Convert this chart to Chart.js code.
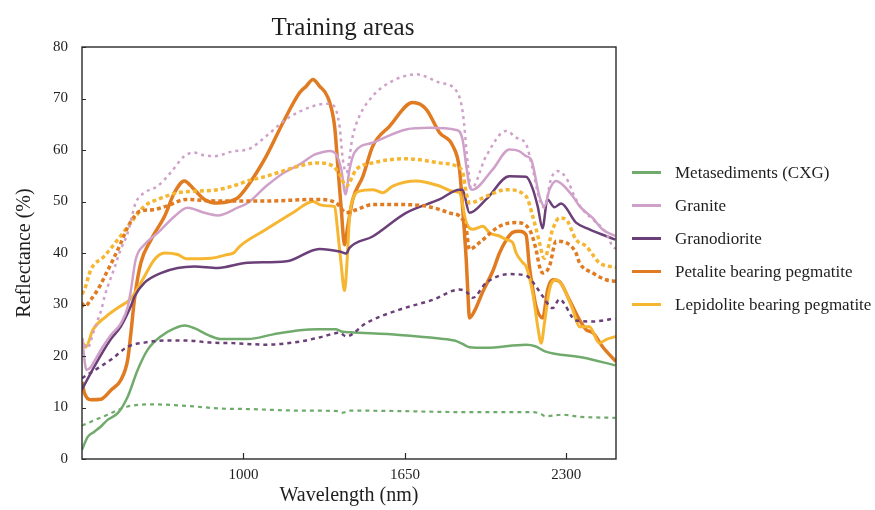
<!DOCTYPE html>
<html>
<head>
<meta charset="utf-8">
<title>Training areas</title>
<script src="https://cdn.jsdelivr.net/npm/chart.js@4.4.1/dist/chart.umd.min.js"></script>
<style>
  html, body { margin: 0; padding: 0; background: #ffffff; }
  #wrap { width: 875px; height: 510px; }
</style>
</head>
<body>
<div id="wrap"><canvas id="spectra" width="875" height="510"></canvas></div>
<script>
// ---- Reflectance spectra (wavelength in nm, reflectance in %) ----

const xTickValues = [1000, 1650, 2300];
const yTickStep = 10;

const metaSolidNm  = [350, 373, 400, 426, 453, 494, 534, 574, 614, 667, 720, 762, 802, 856, 908, 1017, 1120, 1226, 1300, 1370, 1400, 1430, 1628, 1789, 1850, 1880, 1910, 1977, 2138, 2175, 2214, 2365, 2497];
const metaSolidPct = [1.8, 4.3, 5.3, 6.3, 7.6, 8.9, 12.1, 17.3, 21.2, 23.8, 25.3, 25.9, 25.4, 24.1, 23.3, 23.3, 24.2, 25.0, 25.2, 25.2, 24.7, 24.6, 24.1, 23.4, 23.0, 22.4, 21.7, 21.6, 22.2, 21.9, 20.9, 19.7, 18.2];

const metaDotNm  = [350, 453, 534, 641, 775, 908, 1017, 1226, 1380, 1400, 1430, 1628, 1897, 2163, 2200, 2214, 2284, 2353, 2497];
const metaDotPct = [6.5, 8.6, 10.2, 10.6, 10.3, 9.8, 9.7, 9.4, 9.3, 9.0, 9.4, 9.3, 9.1, 9.1, 8.7, 8.3, 8.6, 8.2, 8.0];

const graniteSolidNm  = [350, 368, 385, 400, 430, 465, 506, 534, 546, 566, 601, 655, 722, 775, 843, 896, 977, 1017, 1092, 1160, 1226, 1286, 1320, 1347, 1374, 1394, 1411, 1427, 1447, 1520, 1655, 1749, 1857, 1882, 1897, 1910, 1922, 2003, 2071, 2110, 2138, 2158, 2192, 2212, 2232, 2259, 2284, 2326, 2353, 2406, 2445, 2497];
const graniteSolidPct = [23.5, 17.3, 17.8, 19.0, 21.5, 24.0, 26.3, 29.5, 32.5, 38.7, 41.6, 43.9, 47.1, 48.8, 47.8, 47.3, 48.8, 49.7, 53.0, 55.5, 57.2, 59.1, 59.6, 59.8, 59.1, 56.2, 51.4, 56.2, 59.5, 61.4, 64.0, 64.3, 63.9, 62.1, 57.0, 53.0, 52.3, 56.2, 60.1, 59.8, 58.8, 58.2, 51.0, 49.0, 52.3, 54.0, 53.3, 51.0, 49.1, 46.8, 44.6, 43.3];

const graniteDotNm  = [350, 372, 395, 414, 428, 441, 461, 480, 502, 534, 566, 601, 655, 707, 762, 800, 840, 883, 963, 1017, 1092, 1172, 1280, 1340, 1365, 1387, 1400, 1414, 1440, 1467, 1521, 1588, 1696, 1789, 1857, 1883, 1903, 1917, 1977, 2058, 2098, 2138, 2165, 2192, 2212, 2238, 2265, 2299, 2339, 2366, 2407, 2460, 2486, 2500];
const graniteDotPct = [23.5, 21.5, 24.5, 27.0, 29.0, 31.6, 34.5, 37.0, 40.2, 43.9, 49.7, 51.7, 53.0, 55.6, 58.8, 59.5, 59.0, 58.8, 59.8, 60.1, 62.7, 66.0, 68.5, 69.0, 68.5, 64.6, 58.2, 55.6, 62.7, 66.6, 70.5, 73.1, 74.7, 73.1, 71.5, 67.3, 57.5, 52.5, 58.8, 63.7, 62.4, 61.1, 56.2, 50.4, 48.8, 54.3, 55.9, 54.6, 50.4, 48.4, 46.5, 43.9, 41.3, 40.8];

const granodioriteSolidNm  = [350, 400, 465, 506, 546, 561, 601, 667, 735, 802, 896, 1017, 1174, 1306, 1387, 1414, 1427, 1520, 1655, 1789, 1870, 1882, 1910, 1977, 2071, 2138, 2163, 2185, 2204, 2224, 2252, 2279, 2339, 2393, 2497];
const granodioriteSolidPct = [13.5, 18.0, 23.2, 25.7, 29.6, 31.5, 34.2, 36.1, 37.1, 37.4, 37.1, 38.1, 38.4, 40.8, 40.3, 39.9, 41.0, 43.2, 47.8, 50.4, 52.3, 52.3, 47.8, 50.4, 54.9, 54.8, 52.7, 49.0, 44.8, 50.4, 48.9, 49.6, 45.9, 44.6, 42.6];

const granodioriteDotNm  = [350, 413, 467, 534, 601, 682, 775, 869, 958, 1092, 1226, 1306, 1387, 1414, 1494, 1628, 1762, 1870, 1897, 1923, 1977, 2071, 2138, 2178, 2205, 2245, 2272, 2339, 2407, 2497];
const granodioriteDotPct = [15.7, 17.6, 19.3, 21.8, 22.6, 23.0, 23.0, 22.6, 22.5, 22.2, 22.8, 23.6, 24.5, 23.8, 26.4, 29.0, 30.9, 32.9, 32.5, 31.3, 34.2, 35.9, 35.6, 33.5, 31.6, 29.3, 31.0, 26.9, 26.7, 27.3];

const petaliteSolidNm  = [350, 360, 386, 426, 467, 507, 534, 547, 561, 587, 628, 682, 722, 762, 802, 843, 896, 950, 977, 1017, 1092, 1159, 1226, 1253, 1280, 1306, 1340, 1367, 1380, 1394, 1407, 1420, 1440, 1481, 1521, 1588, 1682, 1736, 1789, 1843, 1870, 1883, 1897, 1903, 1910, 1930, 1964, 2004, 2031, 2058, 2084, 2110, 2138, 2151, 2165, 2178, 2205, 2225, 2245, 2272, 2312, 2353, 2380, 2407, 2446, 2500];
const petaliteSolidPct = [15.0, 12.8, 11.5, 11.6, 13.4, 15.4, 19.3, 24.5, 30.9, 38.1, 42.6, 47.1, 51.7, 54.0, 52.3, 50.4, 49.7, 50.1, 50.7, 53.0, 58.8, 65.3, 71.1, 72.4, 73.7, 72.4, 70.2, 64.6, 56.9, 48.4, 41.6, 45.2, 50.4, 54.9, 60.8, 64.6, 69.2, 67.9, 63.4, 60.8, 56.2, 48.4, 38.7, 32.9, 27.4, 28.7, 32.5, 36.5, 40.0, 42.5, 44.0, 44.2, 43.5, 37.5, 33.0, 29.6, 27.4, 32.9, 34.8, 34.5, 30.9, 27.0, 25.1, 24.5, 21.8, 18.9];

const petaliteDotNm  = [350, 361, 385, 421, 448, 475, 507, 534, 561, 582, 636, 690, 770, 891, 1092, 1293, 1374, 1414, 1454, 1521, 1628, 1736, 1829, 1883, 1897, 1910, 1950, 2031, 2098, 2151, 2178, 2192, 2205, 2232, 2259, 2299, 2339, 2353, 2407, 2460, 2500];
const petaliteDotPct = [30.3, 29.6, 30.9, 33.5, 36.1, 38.7, 42.0, 45.0, 47.1, 48.1, 48.4, 49.1, 50.4, 50.1, 50.1, 50.4, 49.7, 47.8, 48.4, 49.4, 49.4, 49.1, 47.8, 46.5, 44.6, 40.7, 42.0, 45.2, 45.9, 44.6, 40.7, 37.4, 36.1, 37.4, 42.3, 42.0, 40.0, 38.1, 36.1, 34.8, 34.5];

const lepidoliteSolidNm  = [350, 365, 394, 448, 502, 542, 562, 587, 609, 641, 682, 735, 770, 869, 936, 963, 985, 1092, 1199, 1280, 1306, 1360, 1367, 1380, 1393, 1407, 1418, 1427, 1440, 1467, 1521, 1561, 1601, 1696, 1789, 1843, 1870, 1897, 1923, 1964, 1991, 2031, 2058, 2084, 2098, 2125, 2138, 2165, 2185, 2199, 2212, 2232, 2259, 2286, 2326, 2353, 2393, 2433, 2460, 2500];
const lepidoliteSolidPct = [23.0, 21.7, 25.1, 27.7, 29.6, 30.9, 32.2, 34.2, 36.1, 38.7, 40.0, 39.7, 38.9, 39.0, 39.7, 40.1, 41.3, 44.6, 47.8, 50.0, 49.4, 49.1, 49.0, 44.0, 38.0, 32.7, 39.0, 47.0, 50.4, 52.0, 52.3, 51.7, 53.0, 54.0, 53.0, 52.0, 51.7, 45.9, 44.6, 45.2, 43.9, 43.3, 42.6, 42.0, 40.0, 38.1, 37.4, 32.2, 25.7, 22.5, 26.4, 32.9, 34.8, 33.5, 29.0, 25.7, 25.7, 22.5, 23.2, 23.8];

const lepidoliteDotNm  = [350, 360, 386, 440, 494, 547, 601, 655, 735, 802, 896, 977, 1017, 1092, 1226, 1293, 1360, 1387, 1414, 1454, 1521, 1655, 1789, 1857, 1883, 1897, 1910, 1977, 2058, 2138, 2165, 2192, 2205, 2212, 2245, 2272, 2299, 2339, 2380, 2433, 2500];
const lepidoliteDotPct = [32.0, 32.9, 36.8, 39.4, 42.6, 45.9, 49.1, 50.4, 51.7, 52.0, 52.3, 53.3, 54.0, 54.9, 56.9, 57.5, 56.9, 55.3, 53.0, 56.2, 57.5, 58.3, 57.5, 56.9, 55.6, 51.7, 49.7, 51.0, 52.3, 51.0, 47.1, 42.0, 39.4, 39.0, 44.6, 46.8, 46.5, 42.6, 41.3, 38.1, 37.2];

// ---- Styling ----
const COLORS = {
  meta: '#70ab6d',
  granite: '#cfa1c9',
  granodiorite: '#6b3f78',
  petalite: '#e17b22',
  lepidolite: '#f6b632'
};
const SERIF = '"Liberation Serif", "DejaVu Serif", serif';
const INK = '#1e1e1e';

function pairs(xs, ys) {
  return xs.map((x, i) => ({ x: x, y: ys[i] }));
}

function solid(label, color, xs, ys, width) {
  return {
    label: label, data: pairs(xs, ys), inLegend: true,
    borderColor: color, backgroundColor: color, borderWidth: width,
    pointRadius: 0, cubicInterpolationMode: 'monotone', fill: false
  };
}
function dotted(label, color, xs, ys, width, dash) {
  return {
    label: label, data: pairs(xs, ys), inLegend: false,
    borderColor: color, backgroundColor: color, borderWidth: width,
    borderDash: dash, pointRadius: 0, cubicInterpolationMode: 'monotone', fill: false
  };
}

const datasets = [
  dotted('Metasediments (CXG) – library', COLORS.meta, metaDotNm, metaDotPct, 2.2, [4, 4]),
  dotted('Granodiorite – library', COLORS.granodiorite, granodioriteDotNm, granodioriteDotPct, 2.5, [4, 4]),
  dotted('Granite – library', COLORS.granite, graniteDotNm, graniteDotPct, 2.5, [3, 4]),
  dotted('Petalite bearing pegmatite – library', COLORS.petalite, petaliteDotNm, petaliteDotPct, 3.5, [4, 3]),
  dotted('Lepidolite bearing pegmatite – library', COLORS.lepidolite, lepidoliteDotNm, lepidoliteDotPct, 3.5, [4, 3]),
  solid('Metasediments (CXG)', COLORS.meta, metaSolidNm, metaSolidPct, 2.5),
  solid('Granite', COLORS.granite, graniteSolidNm, graniteSolidPct, 2.5),
  solid('Granodiorite', COLORS.granodiorite, granodioriteSolidNm, granodioriteSolidPct, 2.5),
  solid('Lepidolite bearing pegmatite', COLORS.lepidolite, lepidoliteSolidNm, lepidoliteSolidPct, 3),
  solid('Petalite bearing pegmatite', COLORS.petalite, petaliteSolidNm, petaliteSolidPct, 3.5)
];

// Order of the key entries
const legendOrder = ['Metasediments (CXG)', 'Granite', 'Granodiorite', 'Petalite bearing pegmatite', 'Lepidolite bearing pegmatite'];

// Plot frame plus inward tick marks
const frameAndTicks = {
  id: 'frameAndTicks',
  afterDatasetsDraw(chart) {
    const { ctx, chartArea: a, scales } = chart;
    ctx.save();
    ctx.strokeStyle = '#2a2a2a';
    ctx.lineWidth = 1.4;
    ctx.strokeRect(a.left, a.top, a.right - a.left, a.bottom - a.top);
    ctx.lineWidth = 1.2;
    ctx.beginPath();
    scales.y.ticks.forEach(t => {
      const py = Math.round(scales.y.getPixelForValue(t.value)) + 0.5;
      ctx.moveTo(a.left, py); ctx.lineTo(a.left + 4, py);
    });
    scales.x.ticks.forEach(t => {
      const px = Math.round(scales.x.getPixelForValue(t.value)) + 0.5;
      ctx.moveTo(px, a.bottom); ctx.lineTo(px, a.bottom - 6);
    });
    ctx.stroke();
    ctx.restore();
  }
};

// Heading and key on the right
const headingAndKey = {
  id: 'headingAndKey',
  afterDraw(chart) {
    const { ctx } = chart;
    ctx.save();
    ctx.fillStyle = INK;
    ctx.font = '25px ' + SERIF;
    ctx.textAlign = 'center';
    ctx.textBaseline = 'alphabetic';
    ctx.fillText('Training areas', 343, 35);

    ctx.font = '17px ' + SERIF;
    ctx.textAlign = 'left';
    ctx.textBaseline = 'middle';
    const byLabel = {};
    chart.data.datasets.forEach(d => { if (d.inLegend) byLabel[d.label] = d; });
    legendOrder.forEach((name, i) => {
      const d = byLabel[name];
      const cy = 172.5 + i * 33;
      ctx.strokeStyle = d.borderColor;
      ctx.lineWidth = 3;
      ctx.beginPath();
      ctx.moveTo(632, cy); ctx.lineTo(661, cy);
      ctx.stroke();
      ctx.fillStyle = INK;
      ctx.fillText(name, 675, cy + 1);
    });
    ctx.restore();
  }
};

new Chart(document.getElementById('spectra'), {
  type: 'line',
  data: { datasets: datasets },
  plugins: [frameAndTicks, headingAndKey],
  options: {
    responsive: false,
    animation: false,
    devicePixelRatio: 1,
    layout: { padding: { top: 47, right: 259, bottom: 0, left: 0 } },
    plugins: {
      legend: { display: false },
      title: { display: false },
      tooltip: { enabled: false }
    },
    scales: {
      x: {
        type: 'linear',
        min: 350,
        max: 2500,
        afterBuildTicks(axis) { axis.ticks = xTickValues.map(v => ({ value: v })); },
        afterFit(axis) { axis.height = 51; },
        grid: { display: false, drawTicks: false },
        border: { display: false },
        ticks: {
          color: INK, font: { family: SERIF, size: 15 }, padding: 7, maxRotation: 0,
          callback: (value) => String(value)
        },
        title: { display: true, text: 'Wavelength (nm)', color: INK, font: { family: SERIF, size: 20 }, padding: { top: 0, bottom: 2 } }
      },
      y: {
        type: 'linear',
        min: 0,
        max: 80,
        afterFit(axis) { axis.width = 82; },
        grid: { display: false, drawTicks: false },
        border: { display: false },
        ticks: { stepSize: yTickStep, color: INK, font: { family: SERIF, size: 15 }, padding: 14 },
        title: { display: true, text: 'Reflectance (%)', color: INK, font: { family: SERIF, size: 20 }, padding: { top: 13, bottom: 0 } }
      }
    }
  }
});
</script>
</body>
</html>
